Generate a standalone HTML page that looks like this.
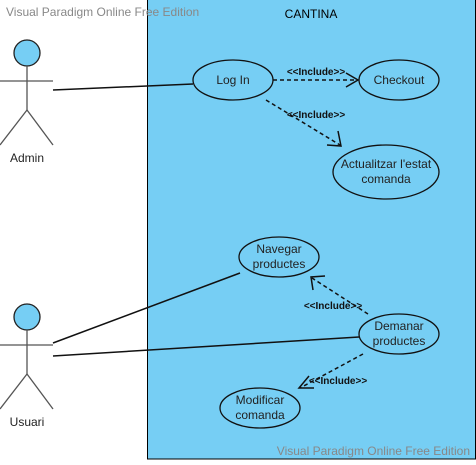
<!DOCTYPE html>
<html><head><style>body{margin:0;background:#fff}</style></head><body>
<svg width="476" height="460" xmlns="http://www.w3.org/2000/svg" font-family="Liberation Sans, sans-serif">
<rect x="147.5" y="-1" width="328" height="460" fill="#76CEF4" stroke="#000"/>
<text x="311" y="18" font-size="12" text-anchor="middle">CANTINA</text>
<text x="6" y="16" font-size="12" fill="#888">Visual Paradigm Online Free Edition</text>
<text x="470" y="455" font-size="12" fill="#888" text-anchor="end">Visual Paradigm Online Free Edition</text>
<g stroke="#555" stroke-width="1.3" fill="none">
<circle cx="27" cy="53" r="13" fill="#76CEF4" stroke="#222"/>
<line x1="0" y1="81" x2="53" y2="81"/><line x1="27" y1="66" x2="27" y2="110"/>
<line x1="27" y1="110" x2="0" y2="145"/><line x1="27" y1="110" x2="53" y2="145"/>
<circle cx="27" cy="317" r="13" fill="#76CEF4" stroke="#222"/>
<line x1="0" y1="345" x2="53" y2="345"/><line x1="27" y1="330" x2="27" y2="374"/>
<line x1="27" y1="374" x2="0" y2="409"/><line x1="27" y1="374" x2="53" y2="409"/>
</g>
<text x="27" y="162" font-size="12" text-anchor="middle" fill="#222">Admin</text>
<text x="27" y="426" font-size="12" text-anchor="middle" fill="#222">Usuari</text>
<g stroke="#111" stroke-width="1.5">
<line x1="53" y1="90" x2="193" y2="84"/>
<line x1="53" y1="343" x2="240" y2="273"/>
<line x1="53" y1="356" x2="359" y2="337"/>
</g>
<g fill="#76CEF4" stroke="#111" stroke-width="1.3">
<ellipse cx="233" cy="80" rx="40" ry="20"/>
<ellipse cx="399" cy="80" rx="40" ry="20"/>
<ellipse cx="386" cy="172" rx="53" ry="27"/>
<ellipse cx="279" cy="257" rx="40" ry="20"/>
<ellipse cx="399" cy="334" rx="40" ry="20"/>
<ellipse cx="260" cy="408" rx="40" ry="20"/>
</g>
<g font-size="12" text-anchor="middle" fill="#222">
<text x="233" y="84">Log In</text>
<text x="399" y="84">Checkout</text>
<text x="386" y="168">Actualitzar l'estat</text><text x="386" y="183">comanda</text>
<text x="279" y="253">Navegar</text><text x="279" y="268">productes</text>
<text x="399" y="330">Demanar</text><text x="399" y="345">productes</text>
<text x="260" y="404">Modificar</text><text x="260" y="419">comanda</text>
</g>
<g stroke="#111" stroke-width="1.5" fill="none" stroke-dasharray="4,3">
<line x1="273" y1="80" x2="357" y2="80"/>
<line x1="266" y1="100" x2="340" y2="145"/>
<line x1="368" y1="314" x2="312" y2="278"/>
<line x1="363" y1="354" x2="300" y2="388"/>
</g>
<g stroke="#111" stroke-width="1.5" fill="none">
<polyline points="346,73 358,80 346,87"/>
<polyline points="338,131 341,146 327,145"/>
<polyline points="313,290 311,277 325,276"/>
<polyline points="309,376 299,388 314,388"/>
</g>
<g font-size="10" font-weight="bold" text-anchor="middle" fill="#111">
<text x="316" y="75">&lt;&lt;Include&gt;&gt;</text>
<text x="316" y="118">&lt;&lt;Include&gt;&gt;</text>
<text x="333" y="309">&lt;&lt;Include&gt;&gt;</text>
<text x="338" y="384">&lt;&lt;Include&gt;&gt;</text>
</g>
</svg>
</body></html>
